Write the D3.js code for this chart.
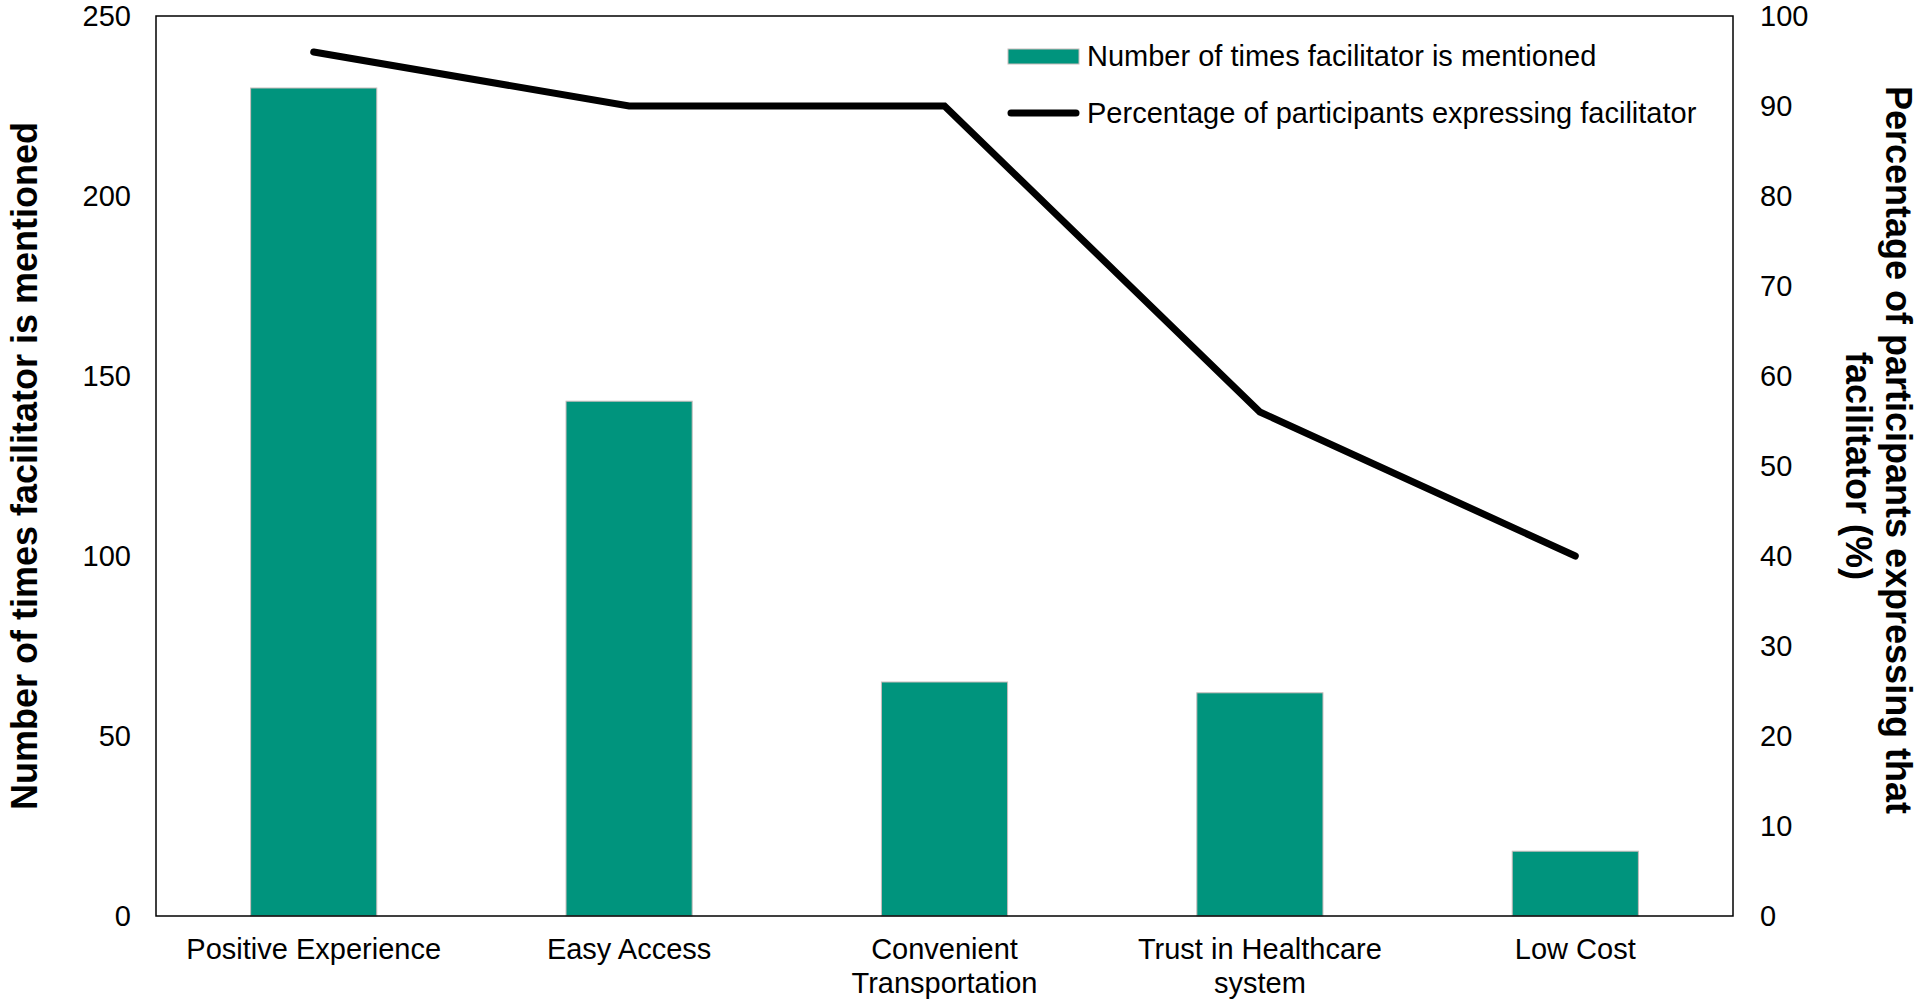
<!DOCTYPE html>
<html>
<head>
<meta charset="utf-8">
<script src="https://cdn.jsdelivr.net/npm/d3@7"></script>
<style>
  html, body { margin: 0; padding: 0; background: #fff; }
  svg { display: block; font-family: "Liberation Sans", Arial, sans-serif; }
</style>
</head>
<body>
<svg id="chart" width="1920" height="1005"></svg>
<script>
// ---- data ----
const categories = [
  ["Positive Experience"],
  ["Easy Access"],
  ["Convenient", "Transportation"],
  ["Trust in Healthcare", "system"],
  ["Low Cost"]
];
const mentions = [230, 143, 65, 62, 18];
const percentages = [96, 90, 90, 56, 40];
const leftTicks = [0, 50, 100, 150, 200, 250];
const rightTicks = [0, 10, 20, 30, 40, 50, 60, 70, 80, 90, 100];
const seriesNames = ["Number of times facilitator is mentioned", "Percentage of participants expressing facilitator"];
const leftTitle = "Number of times facilitator is mentioned";
const rightTitle = ["Percentage of participants expressing that", "facilitator (%)"];

// ---- layout ----
const plot = { left: 156, right: 1733, top: 16, bottom: 916 };
const barColor = "#00947D";
const fontSize = 29;
const svg = d3.select("#chart");

const keys = categories.map((c, i) => i);
const x = d3.scaleBand().domain(keys).range([plot.left, plot.right]).paddingInner(0.6).paddingOuter(0.3);
const yL = d3.scaleLinear().domain([0, 250]).range([plot.bottom, plot.top]);
const yR = d3.scaleLinear().domain([0, 100]).range([plot.bottom, plot.top]);

// bars
svg.append("g").selectAll("rect").data(mentions).join("rect")
  .attr("x", (d, i) => x(i))
  .attr("y", d => yL(d))
  .attr("width", x.bandwidth())
  .attr("height", d => yL(0) - yL(d))
  .attr("fill", barColor)
  .attr("stroke", "#c9bcbc")
  .attr("stroke-width", 1);

// frame
svg.append("rect")
  .attr("x", plot.left).attr("y", plot.top)
  .attr("width", plot.right - plot.left).attr("height", plot.bottom - plot.top)
  .attr("fill", "none").attr("stroke", "#000").attr("stroke-width", 1.5);

// line
const line = d3.line().x((d, i) => x(i) + x.bandwidth() / 2).y(d => yR(d));
svg.append("path").datum(percentages)
  .attr("d", line)
  .attr("fill", "none").attr("stroke", "#000").attr("stroke-width", 7)
  .attr("stroke-linecap", "round").attr("stroke-linejoin", "miter");

// axes
const axL = d3.axisLeft(yL).tickValues(leftTicks).tickSize(0).tickPadding(25);
const gL = svg.append("g").attr("transform", `translate(${plot.left},0)`).call(axL);
const axR = d3.axisRight(yR).tickValues(rightTicks).tickSize(0).tickPadding(27);
const gR = svg.append("g").attr("transform", `translate(${plot.right},0)`).call(axR);
const axB = d3.axisBottom(x).tickSize(0).tickPadding(0).tickFormat(() => "");
const gB = svg.append("g").attr("transform", `translate(0,${plot.bottom})`).call(axB);
[gL, gR, gB].forEach(g => {
  g.select(".domain").remove();
  g.selectAll("text").attr("font-size", fontSize).attr("font-family", "Liberation Sans, Arial, sans-serif").attr("fill", "#000");
});

// category labels (multi-line)
gB.selectAll(".tick text").each(function(d) {
  const t = d3.select(this).attr("y", 0).attr("dy", null);
  categories[d].forEach((ln, j) => {
    t.append("tspan").attr("x", 0).attr("y", 43 + j * 34).text(ln);
  });
});

// left title
svg.append("text")
  .attr("transform", `translate(37,${(plot.top + plot.bottom) / 2}) rotate(-90)`)
  .attr("text-anchor", "middle").attr("font-size", 36).attr("font-weight", "bold")
  .text(leftTitle);

// right title
svg.append("text")
  .attr("transform", `translate(1886,450) rotate(90)`)
  .attr("text-anchor", "middle").attr("font-size", 36).attr("font-weight", "bold")
  .text(rightTitle[0]);
svg.append("text")
  .attr("transform", `translate(1846,466) rotate(90)`)
  .attr("text-anchor", "middle").attr("font-size", 36).attr("font-weight", "bold")
  .text(rightTitle[1]);

// legend
const lg = svg.append("g");
lg.append("rect").attr("x", 1008).attr("y", 49).attr("width", 71).attr("height", 15)
  .attr("fill", barColor).attr("stroke", "#c9bcbc").attr("stroke-width", 1);
lg.append("text").attr("x", 1087).attr("y", 66).attr("font-size", fontSize).text(seriesNames[0]);
lg.append("line").attr("x1", 1011).attr("x2", 1076).attr("y1", 113).attr("y2", 113)
  .attr("stroke", "#000").attr("stroke-width", 7).attr("stroke-linecap", "round");
lg.append("text").attr("x", 1087).attr("y", 123).attr("font-size", fontSize).text(seriesNames[1]);
</script>
</body>
</html>
